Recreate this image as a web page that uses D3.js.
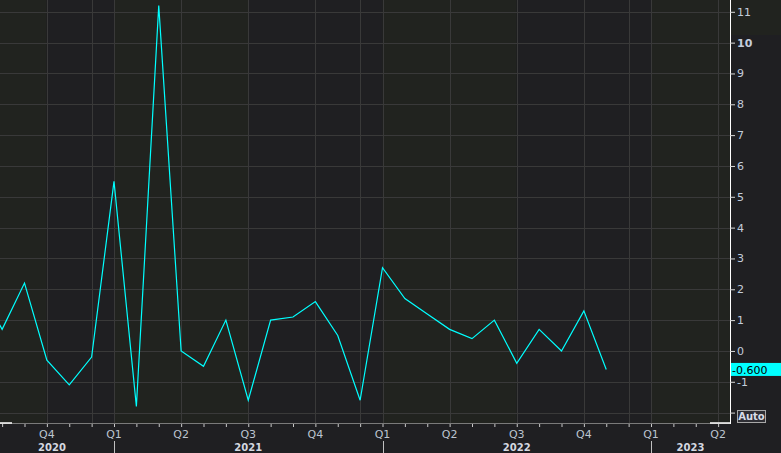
<!DOCTYPE html>
<html>
<head>
<meta charset="utf-8">
<script src="https://cdn.jsdelivr.net/npm/d3@7"></script>
<style>
  body { margin: 0; background: #1f1f22; }
  svg { display: block; font-family: "DejaVu Sans", Verdana, sans-serif; }
</style>
</head>
<body>
<script>
// monthly values, first one sits just off the left edge
var months = ['2020-07-01', '2020-08-01', '2020-09-01', '2020-10-01', '2020-11-01', '2020-12-01',
  '2021-01-01', '2021-02-01', '2021-03-01', '2021-04-01', '2021-05-01', '2021-06-01',
  '2021-07-01', '2021-08-01', '2021-09-01', '2021-10-01', '2021-11-01', '2021-12-01',
  '2022-01-01', '2022-02-01', '2022-03-01', '2022-04-01', '2022-05-01', '2022-06-01',
  '2022-07-01', '2022-08-01', '2022-09-01', '2022-10-01', '2022-11-01'];
var values = [2.0, 0.7, 2.2, -0.3, -1.1, -0.2,
  5.5, -1.8, 11.2, 0.0, -0.5, 1.0,
  -1.6, 1.0, 1.1, 1.6, 0.5, -1.6,
  2.7, 1.7, 1.2, 0.7, 0.4, 1.0,
  -0.4, 0.7, 0.0, 1.3, -0.6];

var quarters = ['2020-10-01', '2021-01-01', '2021-04-01', '2021-07-01', '2021-10-01',
  '2022-01-01', '2022-04-01', '2022-07-01', '2022-10-01', '2023-01-01', '2023-04-01'];
var quarterLabels = ['Q4', 'Q1', 'Q2', 'Q3', 'Q4', 'Q1', 'Q2', 'Q3', 'Q4', 'Q1', 'Q2'];
var extraGrid = ['2020-12-01', '2021-12-01', '2022-12-01'];
var years = ['2020', '2021', '2022', '2023'];
var bandEdges = ['2020-10-01', '2021-01-01', '2021-07-01', '2022-01-01', '2022-07-01', '2023-01-01'];
var yTicks = [-2, -1, 0, 1, 2, 3, 4, 5, 6, 7, 8, 9, 10, 11];
var lastValue = -0.6;

var W = 781, H = 453;
var plotR = 730, plotB = 423;
var parse = d3.utcParse('%Y-%m-%d');

// months are spaced evenly, so work in a month count
var mi = function(s) {
  var d = parse(s);
  return d.getUTCFullYear() * 12 + d.getUTCMonth();
};

var svg = d3.select('body').append('svg')
  .attr('width', W)
  .attr('height', H);

var x = d3.scaleLinear()
  .domain([mi('2021-01-01'), mi('2023-01-01')])
  .range([114, 651]);
var y = d3.scaleLinear()
  .domain([-2, 11])
  .range([412.6, 11.8]);

var mStart = x.invert(0), mEnd = x.invert(plotR);

// background
svg.append('rect').attr('width', W).attr('height', H).attr('fill', '#1f1f22');
svg.append('rect').attr('x', plotR).attr('y', 0).attr('width', W - plotR).attr('height', 35).attr('fill', '#21231f');

// alternating bands
var edges = [mStart].concat(bandEdges.map(mi)).concat([mEnd]);
for (var i = 0; i < edges.length - 1; i++) {
  svg.append('rect')
    .attr('x', x(edges[i]))
    .attr('y', 0)
    .attr('width', x(edges[i + 1]) - x(edges[i]))
    .attr('height', plotB)
    .attr('fill', i % 2 == 0 ? '#21231f' : '#1f1f22');
}

// grid
var grid = svg.append('g').attr('stroke', '#393939').attr('stroke-width', 1);
grid.selectAll('.h').data(yTicks).enter().append('line')
  .attr('x1', 0).attr('x2', plotR)
  .attr('y1', function(d) { return Math.round(y(d)) + 0.5; })
  .attr('y2', function(d) { return Math.round(y(d)) + 0.5; });
grid.selectAll('.v').data(quarters.concat(extraGrid).map(mi)).enter().append('line')
  .attr('x1', function(d) { return Math.round(x(d)) + 0.5; })
  .attr('x2', function(d) { return Math.round(x(d)) + 0.5; })
  .attr('y1', 0).attr('y2', plotB);

// the series
svg.append('clipPath').attr('id', 'clip')
  .append('rect').attr('width', plotR).attr('height', plotB);

var pts = months.map(function(m, i) { return { m: mi(m), value: values[i] }; });
var line = d3.line()
  .x(function(d) { return x(d.m); })
  .y(function(d) { return y(d.value); });

svg.append('path')
  .datum(pts)
  .attr('clip-path', 'url(#clip)')
  .attr('fill', 'none')
  .attr('stroke', '#00ffff')
  .attr('stroke-width', 1.2)
  .attr('d', line);

// bottom axis
svg.append('line').attr('x1', 0).attr('x2', plotR).attr('y1', plotB + 0.5).attr('y2', plotB + 0.5)
  .attr('stroke', '#7a7a7a');
svg.append('line').attr('x1', 0).attr('x2', 12).attr('y1', plotB).attr('y2', plotB)
  .attr('stroke', '#ffffff').attr('stroke-width', 1.5);
svg.append('line').attr('x1', 710).attr('x2', plotR).attr('y1', plotB).attr('y2', plotB)
  .attr('stroke', '#ffffff').attr('stroke-width', 1.5);

var monthAxis = d3.axisBottom(x)
  .tickValues(d3.range(Math.ceil(mStart), Math.floor(mEnd) + 1))
  .tickSize(3)
  .tickFormat('');
var gx = svg.append('g')
  .attr('transform', 'translate(0,' + (plotB + 1) + ')')
  .call(monthAxis);
gx.select('.domain').remove();
gx.selectAll('.tick line').attr('stroke', '#c8c8c8');

svg.selectAll('.qlab').data(quarters).enter().append('text')
  .attr('x', function(d) { return x(mi(d)); })
  .attr('y', 437.5)
  .attr('text-anchor', 'middle')
  .attr('font-size', 11)
  .attr('fill', '#bcc4d0')
  .text(function(d, i) { return quarterLabels[i]; });

// year labels and separators
svg.selectAll('.ysep').data(years.slice(1)).enter().append('line')
  .attr('x1', function(d) { return Math.round(x(mi(d + '-01-01'))) + 0.5; })
  .attr('x2', function(d) { return Math.round(x(mi(d + '-01-01'))) + 0.5; })
  .attr('y1', 441).attr('y2', H)
  .attr('stroke', '#c0c0c0');

svg.selectAll('.ylab').data(years).enter().append('text')
  .attr('x', function(d) {
    var a = Math.max(0, x(mi(d + '-01-01')));
    var b = Math.min(plotR, x(mi((+d + 1) + '-01-01')));
    return (a + b) / 2 - (a == 0 ? 5 : 0);
  })
  .attr('y', 450.7)
  .attr('text-anchor', 'middle')
  .attr('font-size', 10)
  .attr('font-weight', 'bold')
  .attr('fill', '#d4d8e0')
  .text(function(d) { return d; });

// right axis
svg.append('line').attr('x1', plotR + 0.5).attr('x2', plotR + 0.5).attr('y1', 0).attr('y2', plotB + 1)
  .attr('stroke', '#ffffff');

var yAxis = d3.axisRight(y)
  .tickValues(yTicks)
  .tickSize(5)
  .tickPadding(2)
  .tickFormat(function(d) { return d == -2 ? '' : d; });
var gy = svg.append('g')
  .attr('transform', 'translate(' + plotR + ',0)')
  .call(yAxis);
gy.select('.domain').remove();
gy.selectAll('.tick line').attr('stroke', '#d8d8d8');
gy.selectAll('.tick text')
  .attr('font-size', 11)
  .attr('font-family', '"DejaVu Sans", Verdana, sans-serif')
  .attr('fill', '#c3cddc')
  .attr('font-weight', function(d) { return d == 10 ? 'bold' : 'normal'; });

// last value marker
svg.append('rect')
  .attr('x', plotR + 1)
  .attr('y', y(lastValue) - 6.5)
  .attr('width', W - plotR - 1)
  .attr('height', 13)
  .attr('fill', '#00ffff');
svg.append('text')
  .attr('x', plotR + 2)
  .attr('y', y(lastValue) + 4.2)
  .attr('font-size', 11)
  .attr('fill', '#000000')
  .text(lastValue.toFixed(3));

// Auto button
svg.append('rect')
  .attr('x', 737.5).attr('y', 410.5)
  .attr('width', 28).attr('height', 12)
  .attr('fill', '#2e2e34')
  .attr('stroke', '#a8a8a8');
svg.append('text')
  .attr('x', 751.5).attr('y', 420.3)
  .attr('text-anchor', 'middle')
  .attr('font-size', 10)
  .attr('font-weight', 'bold')
  .attr('fill', '#d8dce8')
  .text('Auto');
</script>
</body>
</html>
